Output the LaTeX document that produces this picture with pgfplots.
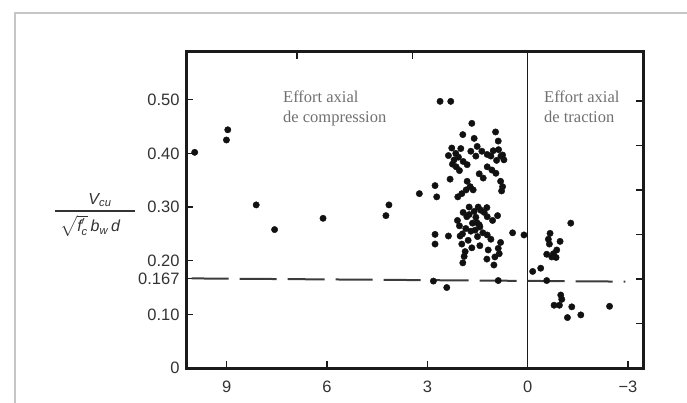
\documentclass[border=0pt]{standalone}
\usepackage{fontspec}
\usepackage{amsmath}
\usepackage{pgfplots}
\usepackage{pgfplotstable}
\pgfplotsset{compat=1.18}
\setmainfont{Liberation Sans}
\newfontfamily\serifont{Liberation Serif}
\definecolor{ink}{HTML}{1A1A1A}
\definecolor{lbl}{HTML}{333333}
\definecolor{ann}{HTML}{707070}
\definecolor{dot}{HTML}{111111}

% compression (positive x) and tension (negative x)
\pgfplotstableread{
x y
9.96 0.402
8.97 0.444
9.01 0.425
8.12 0.304
7.57 0.258
6.12 0.279
4.24 0.284
4.15 0.304
3.24 0.325
2.77 0.340
2.72 0.319
2.62 0.497
2.30 0.497
2.77 0.249
2.77 0.231
2.37 0.246
2.82 0.162
2.42 0.150
0.88 0.163
0.45 0.252
0.11 0.248
1.67 0.456
1.94 0.435
0.96 0.440
1.60 0.428
0.88 0.423
2.27 0.410
2.00 0.409
1.70 0.404
1.51 0.413
1.37 0.404
1.21 0.398
1.03 0.405
0.87 0.407
0.75 0.397
0.71 0.388
0.93 0.387
2.37 0.396
2.20 0.388
2.07 0.393
1.93 0.385
1.81 0.379
2.14 0.375
2.04 0.368
2.32 0.352
1.45 0.362
1.33 0.354
1.21 0.375
1.07 0.369
0.95 0.363
1.81 0.348
1.72 0.338
1.84 0.332
1.97 0.325
2.09 0.319
1.63 0.332
0.81 0.348
0.75 0.338
0.78 0.330
2.15 0.400
1.55 0.395
1.10 0.395
0.80 0.395
2.25 0.380
1.93 0.290
1.75 0.286
1.55 0.281
1.40 0.294
1.22 0.299
1.21 0.282
0.90 0.284
2.04 0.265
1.45 0.267
1.82 0.282
2.10 0.275
1.52 0.271
1.43 0.263
1.57 0.257
1.34 0.252
1.21 0.248
2.02 0.246
1.78 0.238
1.97 0.231
1.87 0.217
1.67 0.224
1.43 0.228
1.18 0.220
0.81 0.234
0.85 0.213
0.98 0.207
1.22 0.203
1.94 0.196
1.01 0.192
1.60 0.292
1.30 0.290
1.85 0.260
1.70 0.255
1.95 0.250
1.50 0.245
1.10 0.240
1.65 0.270
1.90 0.208
1.05 0.275
0.88 0.223
1.75 0.300
1.48 0.300
-1.29 0.270
-0.67 0.251
-0.62 0.240
-0.97 0.236
-0.65 0.231
-0.87 0.220
-0.77 0.213
-0.57 0.212
-0.72 0.207
-0.85 0.206
-0.15 0.180
-0.39 0.186
-0.57 0.163
-0.99 0.136
-1.02 0.128
-0.79 0.117
-0.95 0.117
-1.32 0.114
-1.19 0.094
-1.59 0.099
-2.45 0.115
}\datatab

\begin{document}
\begin{tikzpicture}
\begin{axis}[
  at={(0pt,0pt)}, anchor=south west,
  scale only axis, width=457pt, height=316pt,
  x dir=reverse, xmin=-3.45, xmax=10.22, ymin=0, ymax=0.589,
  xtick={6.895,3.4475}, ytick={0.083,0.166,0.249,0.332,0.415,0.498},
  xticklabels={}, yticklabels={},
  tick pos=right, tick align=inside,
  major tick length=7pt,
  every tick/.style={ink, line width=1.4pt},
  axis line style={draw=none},
]
\end{axis}
\begin{axis}[
  at={(0pt,0pt)}, anchor=south west,
  scale only axis, width=457pt, height=316pt,
  x dir=reverse, xmin=-3.45, xmax=10.22, ymin=0, ymax=0.589,
  xtick={9,6,3,0,-3}, xticklabels={9,6,3,0,−3},
  ytick={0,0.1,0.167,0.2,0.3,0.4,0.5},
  yticklabels={0,0.10,0.167,0.20,0.30,0.40,0.50},
  tick pos=left, tick align=inside,
  major tick length=7pt,
  every tick/.style={ink, line width=1.4pt},
  axis line style={draw=none},
  ticklabel style={font=\fontsize{16.5}{19}\selectfont, text=lbl},
  xticklabel style={yshift=-9pt},
  yticklabel style={xshift=-3pt},
]
\addplot[ink, line width=1.3pt] coordinates {(0,0) (0,0.589)};
\addplot[ink!85, line width=2pt, dash pattern=on 37pt off 11pt] coordinates {(10.05,0.167) (-2.92,0.161)};
\addplot[only marks, mark=*, mark size=3.2pt, draw=dot, fill=dot] table[x=x,y=y] {\datatab};
\end{axis}
% axis frame
\draw[ink, line width=3pt, line join=miter] (0pt,0pt) rectangle (457pt,316pt);
% annotations
\node[anchor=base west, text=ann, font=\serifont\fontsize{16.5}{20}\selectfont, inner sep=0pt] at (97pt,265pt) {Effort axial};
\node[anchor=base west, text=ann, font=\serifont\fontsize{16.5}{20}\selectfont, inner sep=0pt] at (97pt,245pt) {de compression};
\node[anchor=base west, text=ann, font=\serifont\fontsize{16.5}{20}\selectfont, inner sep=0pt] at (358pt,265pt) {Effort axial};
\node[anchor=base west, text=ann, font=\serifont\fontsize{16.5}{20}\selectfont, inner sep=0pt] at (358pt,245pt) {de traction};
% y label as a fraction
\draw[lbl, line width=1.3pt] (-131pt,157pt) -- (-51pt,157pt);
\node[text=lbl, font=\fontsize{16}{19}\selectfont, inner sep=0pt] at (-86pt,168pt) {\(\textit{V}_{\textit{cu}}\)};
\node[text=lbl, font=\fontsize{16}{19}\selectfont, inner sep=0pt] at (-96pt,142pt) {\(\sqrt{\textit{f}'_{\textit{c}}}\,\textit{b}_{\textit{w}}\,\textit{d}\)};
% outer frame of the scanned figure
\draw[gray!45, line width=1.5pt] (-171pt,-40pt) -- (-171pt,355pt) -- (510pt,355pt);
\pgfresetboundingbox
\useasboundingbox (-186pt,-34pt) rectangle (501pt,368pt);
\end{tikzpicture}
\end{document}
